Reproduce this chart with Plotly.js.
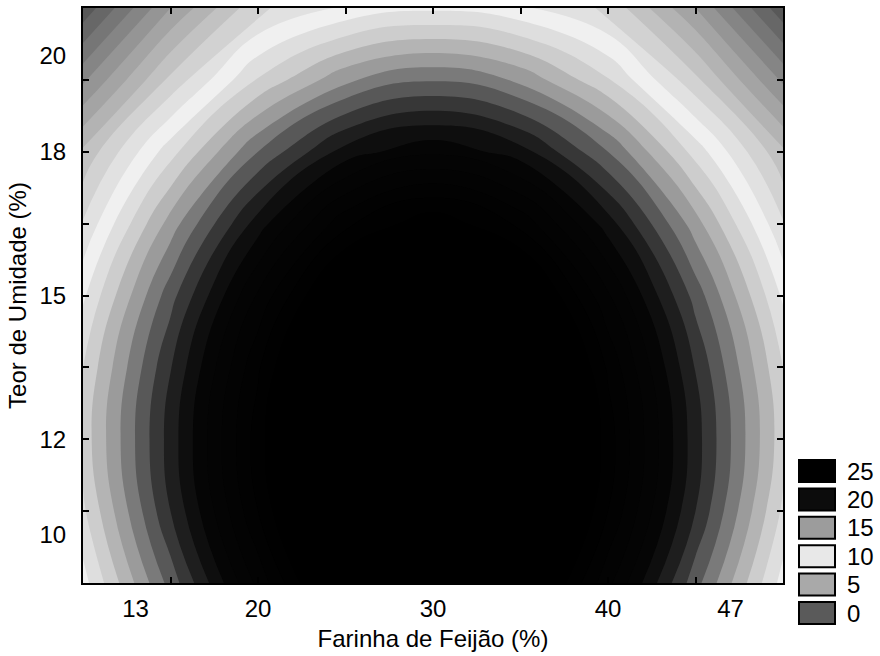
<!DOCTYPE html>
<html><head><meta charset="utf-8">
<script src="https://cdn.plot.ly/plotly-3.0.1.min.js"></script>
<style>html,body{margin:0;padding:0;background:#fff}</style>
</head><body>
<div id="chart" style="width:880px;height:656px"></div>
<script>
// Farinha de Feijão (%) grid, Teor de Umidade (%) grid, response
const farinha = [10, 15, 20, 25, 30, 35, 40, 45, 50];
const umidade = [9, 10.5, 12, 13.5, 15, 16.5, 18, 19.5, 21];
const resposta = [
  [10.6, 16.4, 22.3, 27.9, 31.5, 27.9, 22.3, 16.4, 10.6],
  [11.8, 18.0, 24.0, 29.9, 36.5, 29.9, 24.0, 18.0, 11.8],
  [12.4, 18.45, 24.5, 30.5, 36.6, 30.5, 24.5, 18.45, 12.4],
  [12.0, 17.95, 23.85, 29.7, 35.7, 29.7, 23.85, 17.95, 12.0],
  [10.85, 16.6, 22.15, 27.3, 30.7, 27.3, 22.15, 16.6, 10.85],
  [9.1, 14.45, 19.5, 23.75, 25.8, 23.75, 19.5, 14.45, 9.1],
  [7.2, 11.6, 16.0, 19.45, 20.8, 19.45, 16.0, 11.6, 7.2],
  [3.8, 8.25, 12.1, 14.8, 15.9, 14.8, 12.1, 8.25, 3.8],
  [0.3, 5.0, 8.8, 10.2, 10.8, 10.2, 8.8, 5.0, 0.3]
];
const xTickVals = [13, 20, 30, 40, 47];
const xTickMarks = [15, 20, 25, 30, 35, 40, 45];
const yTickVals = [10, 12, 15, 18, 20];
const yTickMarks = [10.5, 12, 13.5, 15, 16.5, 18, 19.5];
const legendLevels = [25, 20, 15, 10, 5, 0];
const legendColors = ['#000000', '#0c0c0c', '#9c9c9c', '#e8e8e8', '#a9a9a9', '#5a5a5a'];

const FONT = 'Liberation Sans, Arial, sans-serif';
const L = 83, R = 97, T = 8, B = 73, W = 880, H = 656;
const pw = W - L - R, ph = H - T - B;
const px2x = p => (p - L) / pw;
const px2y = p => (H - B - p) / ph;
const g = v => 'rgb(' + v + ',' + v + ',' + v + ')';

const trace = {
  type: 'contour',
  x: farinha, y: umidade, z: resposta,
  zmin: 0, zmax: 25, zauto: false,
  colorscale: [
    [0, g(80)], [0.42, g(240)], [0.46, g(222)], [0.50, g(205)], [0.54, g(180)],
    [0.58, g(155)], [0.62, g(122)], [0.66, g(88)], [0.70, g(55)], [0.74, g(30)],
    [0.78, g(14)], [0.82, g(5)], [1, g(0)]
  ],
  contours: {start: 0, end: 40, size: 1, coloring: 'fill', showlines: false},
  line: {width: 0, smoothing: 1.3},
  showscale: false, hoverinfo: 'skip'
};

const shapes = [], annotations = [];
legendLevels.forEach((lv, i) => {
  const top = 460 + i * 28.4;
  shapes.push({type: 'rect', xref: 'paper', yref: 'paper',
    x0: px2x(799), x1: px2x(835), y0: px2y(top), y1: px2y(top + 22),
    fillcolor: legendColors[i], line: {color: '#000', width: 2}});
  annotations.push({xref: 'paper', yref: 'paper', x: px2x(845), y: px2y(top + 11),
    xanchor: 'left', yanchor: 'middle', showarrow: false, text: String(lv),
    font: {family: FONT, size: 24, color: '#000'}});
});

const layout = {
  width: W, height: H,
  margin: {l: L, r: R, t: T, b: B},
  paper_bgcolor: '#fff', plot_bgcolor: '#fff',
  font: {family: FONT, size: 24, color: '#000'},
  showlegend: false,
  xaxis: {
    range: [10, 50], tickmode: 'array', tickvals: xTickVals, ticktext: xTickVals.map(String),
    ticks: '', showgrid: false, zeroline: false, showline: true, mirror: 'allticks',
    linecolor: '#000', linewidth: 2, ticklabelstandoff: 3, tickfont: {family: FONT, size: 24},
    minor: {tickmode: 'array', tickvals: xTickMarks, ticks: 'inside', ticklen: 6, tickwidth: 2, tickcolor: '#000', showgrid: false},
    title: {text: 'Farinha de Feijão (%)', font: {family: FONT, size: 24}, standoff: 9}
  },
  yaxis: {
    range: [9, 21], tickmode: 'array', tickvals: yTickVals, ticktext: yTickVals.map(String),
    ticks: '', showgrid: false, zeroline: false, showline: true, mirror: 'allticks',
    linecolor: '#000', linewidth: 2, ticklabelstandoff: 10, tickfont: {family: FONT, size: 24},
    minor: {tickmode: 'array', tickvals: yTickMarks, ticks: 'inside', ticklen: 6, tickwidth: 2, tickcolor: '#000', showgrid: false},
    title: {text: 'Teor de Umidade (%)', font: {family: FONT, size: 24}, standoff: 6}
  },
  shapes: shapes, annotations: annotations
};

Plotly.newPlot('chart', [trace], layout, {displayModeBar: false, staticPlot: true});
</script>
</body></html>
